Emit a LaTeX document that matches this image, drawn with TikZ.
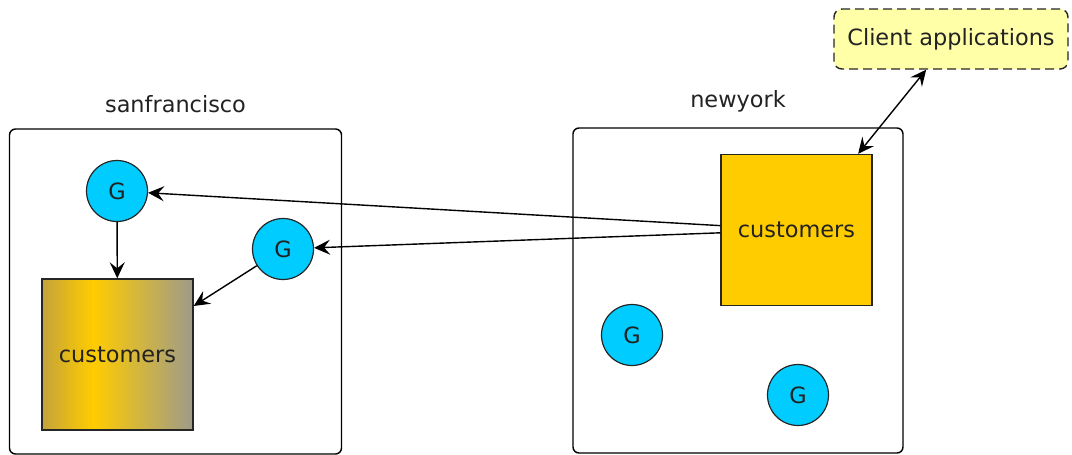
\documentclass[tikz,border=0pt]{standalone}
\usepackage{fontspec}
\setmainfont{DejaVu Sans}
\usetikzlibrary{arrows.meta}

\definecolor{gcyan}{HTML}{00CCFF}
\definecolor{gold}{HTML}{FFCC00}
\definecolor{sfleft}{HTML}{C4A33A}
\definecolor{sfright}{HTML}{9E9A8A}
\definecolor{clientfill}{HTML}{FFFFA8}
\definecolor{inkdark}{HTML}{222222}
\pgfdeclarehorizontalshading{goldgray}{100bp}{color(0bp)=(sfleft); color(25bp)=(sfleft); color(42bp)=(gold); color(75bp)=(sfright); color(100bp)=(sfright)}

\begin{document}
\begin{tikzpicture}[
  x=0.5pt, y=-0.5pt,
  every node/.style={font=\fontsize{11.2}{13.5}\selectfont, text=inkdark},
  zone/.style={draw, line width=0.7pt, rounded corners=3pt, minimum width=166pt, minimum height=162.5pt, inner sep=0pt},
  zonelabel/.style={label distance=4pt},
  gnode/.style={circle, draw=black!85, line width=0.6pt, fill=gcyan, minimum size=30.5pt, inner sep=0pt},
  store/.style={draw=black!85, line width=0.7pt, minimum size=75.5pt, inner sep=0pt},
  client/.style={draw=black!85, line width=0.7pt, dash pattern=on 4.5pt off 2.5pt, rounded corners=4pt,
    fill=clientfill, minimum width=117pt, minimum height=30pt},
  link/.style={line width=0.7pt, -{Stealth[length=8pt, width=7.5pt, inset=3pt]}},
  dlink/.style={line width=0.7pt, {Stealth[length=8pt, width=7.5pt, inset=3pt]}-{Stealth[length=8pt, width=7.5pt, inset=3pt]}},
]

% Frame (1 unit = 1 pixel of the reference)
\useasboundingbox (0,0) rectangle (1072,455);

% Zones
\node[zone, label={[zonelabel]above:sanfrancisco}] (sf) at (175.5,291.5) {};
\node[zone, minimum width=165pt, label={[zonelabel]above:newyork}] (ny) at (738,290.5) {};

% Data stores
\node[store, shade, shading=goldgray] (sfcust) at (117.5,354.5) {customers};
\node[store, fill=gold] (nycust) at (796.5,230) {customers};

% Gateways
\node[gnode] (g1) at (117,191) {G};
\node[gnode] (g2) at (283,249) {G};
\node[gnode] (g3) at (632,335) {G};
\node[gnode] (g4) at (798,395) {G};

% Clients
\node[client] (apps) at (951,39) {Client applications};

% Replication
\draw[link] (nycust) -- (g1);
\draw[link] (nycust) -- (g2);
\draw[link] (g1) -- (sfcust);
\draw[link] (g2) -- (sfcust);
\draw[dlink] (apps) -- (nycust);

\end{tikzpicture}
\end{document}
